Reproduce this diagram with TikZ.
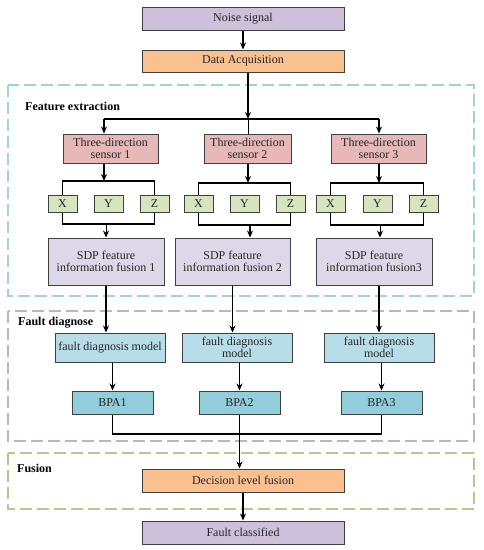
\documentclass[tikz,border=0pt]{standalone}
\usepackage{fontspec}
\setmainfont{Liberation Serif}
\usetikzlibrary{arrows.meta}
\definecolor{cpurple}{HTML}{CCC0DA}
\definecolor{corange}{HTML}{FAC090}
\definecolor{cpink}{HTML}{E6B9B8}
\definecolor{cgreen}{HTML}{D7E4BD}
\definecolor{clav}{HTML}{DCD8E9}
\definecolor{cltblue}{HTML}{B7DEE8}
\definecolor{cblue}{HTML}{92CDDC}
\definecolor{dcyan}{HTML}{9FD3DA}
\definecolor{dgray}{HTML}{B8B4CC}
\definecolor{dgreen}{HTML}{B9C78F}
\begin{document}
\begin{tikzpicture}[x=1pt,y=-1pt,
  font=\fontsize{12}{14}\selectfont,
  bx/.style={draw=black!75, line width=1pt, minimum width=#1, minimum height=23pt,
    inner sep=1pt, align=center, text=black!85},
  arr/.style={-{Stealth[length=7pt,width=6pt]}, line width=1.3pt},
  ln/.style={line width=1.3pt},
  thinln/.style={line width=0.9pt},
  zone/.style={line width=1.2pt, dash pattern=on 12pt off 5pt},
  lbl/.style={anchor=west, font=\fontsize{12}{14}\selectfont\bfseries, inner sep=0pt}]
\useasboundingbox (0,0) rectangle (483,550);
% zones
\draw[zone, dcyan] (8,85) rectangle (474,296);
\draw[zone, dgray] (8,311) rectangle (474,441);
\draw[zone, dgreen] (8,453) rectangle (474,509);
\node[lbl] (lfe) at (25,106) {Feature extraction};
\node[lbl] (lfd) at (18,323) {Fault diagnose};
\node[lbl] (lfu) at (17,468) {Fusion};
% top
\node[bx=202, fill=cpurple] (noise) at (243,18.5) {Noise signal};
\node[bx=202, minimum height=22pt, fill=corange] (daq) at (243,61) {Data Acquisition};
% sensors
\node[bx=95, minimum height=29pt, fill=cpink] (s1) at (110.5,148.5) {Three-direction\\[-2pt]sensor 1};
\node[bx=87, minimum height=29pt, fill=cpink] (s2) at (247.5,148.5) {Three-direction\\[-2pt]sensor 2};
\node[bx=95, minimum height=29pt, fill=cpink] (s3) at (378.5,148.5) {Three-direction\\[-2pt]sensor 3};
% coordinates
\coordinate (j) at (248,119);
\coordinate (jl) at (104,119);
\coordinate (jr) at (379,119);
\coordinate (b1t) at (104,181);
\coordinate (b1b) at (106,224);
\coordinate (b2t) at (248,183);
\coordinate (b2b) at (250,225);
\coordinate (b3t) at (379,183);
\coordinate (b3b) at (380,225);
\coordinate (cy) at (0,434);
% XYZ boxes and brackets
\node[bx=29, minimum height=17pt, fill=cgreen] (x1) at (62.5,203.5) {X};
\node[bx=29, minimum height=17pt, fill=cgreen] (y1) at (108.5,203.5) {Y};
\node[bx=29, minimum height=17pt, fill=cgreen] (z1) at (154.5,203.5) {Z};
\node[bx=29, minimum height=17pt, fill=cgreen] (x2) at (198.5,203.5) {X};
\node[bx=29, minimum height=17pt, fill=cgreen] (y2) at (244.5,203.5) {Y};
\node[bx=29, minimum height=17pt, fill=cgreen] (z2) at (290.5,203.5) {Z};
\node[bx=29, minimum height=17pt, fill=cgreen] (x3) at (330.5,203.5) {X};
\node[bx=29, minimum height=17pt, fill=cgreen] (y3) at (377.5,203.5) {Y};
\node[bx=29, minimum height=17pt, fill=cgreen] (z3) at (423.5,203.5) {Z};
\draw[ln] (x1.north) |- (b1t) -| (z1.north);
\draw[ln] (x1.south) |- (b1b) -| (z1.south);
\draw[ln] (x2.north) |- (b2t) -| (z2.north);
\draw[ln] (x2.south) |- (b2b) -| (z2.south);
\draw[ln] (x3.north) |- (b3t) -| (z3.north);
\draw[ln] (x3.south) |- (b3b) -| (z3.south);
% SDP
\node[bx=116, minimum height=47pt, fill=clav] (sdp1) at (106,261.5) {SDP feature\\[-2pt]information fusion 1};
\node[bx=115, minimum height=47pt, fill=clav] (sdp2) at (232.5,261.5) {SDP feature\\[-2pt]information fusion 2};
\node[bx=116, minimum height=47pt, fill=clav] (sdp3) at (374,261.5) {SDP feature\\[-2pt]information fusion3};
% fault diagnosis
\node[bx=110, minimum height=29pt, fill=cltblue] (fdm1) at (110,347.5) {fault diagnosis model};
\node[bx=110, minimum height=29pt, fill=cltblue] (fdm2) at (237,347.5) {fault diagnosis\\[-2pt]model};
\node[bx=110, minimum height=29pt, fill=cltblue] (fdm3) at (379,347.5) {fault diagnosis\\[-2pt]model};
\node[bx=81, fill=cblue] (bpa1) at (112.5,402.5) {BPA1};
\node[bx=81, fill=cblue] (bpa2) at (239.5,402.5) {BPA2};
\node[bx=81, fill=cblue] (bpa3) at (381.5,402.5) {BPA3};
% fusion
\node[bx=202, fill=corange] (dec) at (243,480.5) {Decision level fusion};
\node[bx=202, fill=cpurple] (fc) at (243,532.5) {Fault classified};
% connectors
\draw[arr] (noise) -- (daq);
\draw[arr] (daq.south -| j) -- (j);
\draw[ln] (jl) -- (jr);
\draw[arr] (jl) -- (jl |- s1.north);
\draw[arr] (jr) -- (jr |- s3.north);
\draw[thinln] (j) -- (j |- s2.north);
\draw[arr] (b1t |- s1.south) -- (b1t);
\draw[arr] (b2t |- s2.south) -- (b2t);
\draw[arr] (b3t |- s3.south) -- (b3t);
\draw[arr, line width=1pt] (b1b) -- (b1b |- sdp1.north);
\draw[arr] (b2b) -- (b2b |- sdp2.north);
\draw[arr, line width=1pt] (b3b) -- (b3b |- sdp3.north);
\draw[arr] (sdp1.south) -- (sdp1.south |- fdm1.north);
\draw[arr] (sdp2.south) -- (sdp2.south |- fdm2.north);
\draw[arr] (fdm3.north |- sdp3.south) -- (fdm3.north);
\draw[arr] (fdm1.south -| bpa1.north) -- (bpa1.north);
\draw[arr] (fdm2.south -| bpa2.north) -- (bpa2.north);
\draw[arr] (fdm3.south -| bpa3.north) -- (bpa3.north);
\draw[ln] (bpa1.south) -- (bpa1.south |- cy) -- (bpa3.south |- cy) -- (bpa3.south);
\draw[arr, line width=1pt] (bpa2.south) -- (bpa2.south |- dec.north);
\draw[arr] (dec) -- (fc);
\end{tikzpicture}
\end{document}
